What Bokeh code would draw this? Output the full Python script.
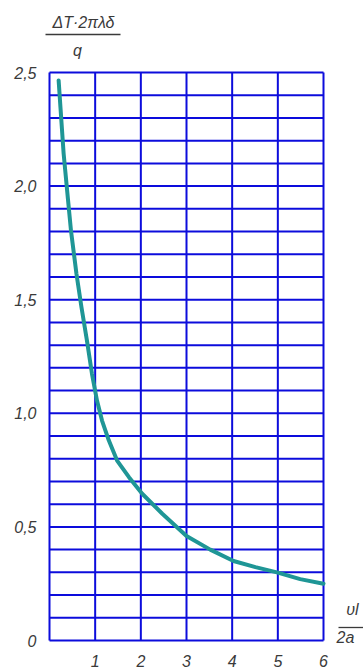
from bokeh.plotting import figure
from bokeh.models import Range1d
from bokeh.core.properties import value
from bokeh.embed import file_html
from bokeh.resources import INLINE

# data
x_vals = [0.20, 0.24, 0.31, 0.40, 0.47, 0.59, 0.70, 0.82, 0.93, 1.04, 1.15, 1.30,
          1.48, 1.74, 2.03, 2.47, 3.0, 3.52, 4.03, 4.51, 4.98, 5.49, 6.0]
y_vals = [2.465, 2.347, 2.142, 1.951, 1.805, 1.614, 1.467, 1.320, 1.174, 1.056, 0.968, 0.880,
          0.792, 0.719, 0.646, 0.558, 0.46, 0.40, 0.35, 0.323, 0.30, 0.27, 0.25]

x_ticks = [1, 2, 3, 4, 5, 6]
x_tick_labels = ["1", "2", "3", "4", "5", "6"]
y_ticks = [0, 0.5, 1.0, 1.5, 2.0, 2.5]
y_tick_labels = ["0", "0,5", "1,0", "1,5", "2,0", "2,5"]
x_grid = [0, 1, 2, 3, 4, 5, 6]
y_grid = [round(i * 0.1, 1) for i in range(26)]
y_title_num = "ΔT·2πλδ"
y_title_den = "q"
x_title_num = "υl"
x_title_den = "2a"

FONT = value("Liberation Sans Narrow, Liberation Sans, sans-serif")
BLUE = "#0c0cdc"
TEXT = "#3a3a3a"

W, H = 363, 670
LEFT, TOP, FW, FH = 49, 72, 274, 568          # pixel box of the grid
XMIN, XMAX = min(x_grid), max(x_grid)
YMIN, YMAX = min(y_grid), max(y_grid)
sx = FW / (XMAX - XMIN)
sy = FH / (YMAX - YMIN)

p = figure(width=W, height=H, min_border=0,
           x_range=Range1d(XMIN - LEFT / sx, XMAX + (W - LEFT - FW) / sx),
           y_range=Range1d(YMIN - (H - TOP - FH) / sy, YMAX + TOP / sy),
           output_backend="svg", toolbar_location=None,
           x_axis_type=None, y_axis_type=None)
p.background_fill_color = "white"
p.border_fill_color = "white"
p.outline_line_color = None
p.grid.visible = False

# grid (including its border)
p.segment(x0=x_grid, y0=[YMIN] * len(x_grid), x1=x_grid, y1=[YMAX] * len(x_grid),
          line_color=BLUE, line_width=2)
p.segment(x0=[XMIN] * len(y_grid), y0=y_grid, x1=[XMAX] * len(y_grid), y1=y_grid,
          line_color=BLUE, line_width=2)

# curve
p.line(x_vals, y_vals, line_color="#1f9696", line_width=4, line_cap="round", line_join="round")

# tick labels
p.text(x=x_ticks, y=[YMIN] * len(x_ticks), text=x_tick_labels, y_offset=20,
       text_align="center", text_baseline="middle", text_font=FONT,
       text_font_style="italic", text_font_size="16px", text_color=TEXT)
p.text(x=[XMIN] * len(y_ticks), y=y_ticks, text=y_tick_labels, x_offset=-13,
       text_align="right", text_baseline="middle", text_font=FONT,
       text_font_style="italic", text_font_size="16px", text_color=TEXT)

# y-axis title (fraction) above the grid
p.text(x=[XMIN], y=[YMAX], text=[y_title_num], x_offset=34, y_offset=-50,
       text_align="center", text_baseline="middle", text_font=FONT,
       text_font_style="italic", text_font_size="16px", text_color=TEXT)
p.segment(x0=[XMIN - 4 / sx], y0=[YMAX + 38 / sy], x1=[XMIN + 71 / sx], y1=[YMAX + 38 / sy],
          line_color=TEXT, line_width=1.3)
p.text(x=[XMIN], y=[YMAX], text=[y_title_den], x_offset=28, y_offset=-22,
       text_align="center", text_baseline="middle", text_font=FONT,
       text_font_style="italic", text_font_size="16px", text_color=TEXT)

# x-axis title (fraction) right of the grid
p.text(x=[XMAX], y=[YMIN], text=[x_title_num], x_offset=29, y_offset=-31,
       text_align="center", text_baseline="middle", text_font=FONT,
       text_font_style="italic", text_font_size="16px", text_color=TEXT)
p.segment(x0=[XMAX + 15 / sx], y0=[YMIN + 13 / sy], x1=[XMAX + 40 / sx], y1=[YMIN + 13 / sy],
          line_color=TEXT, line_width=1.3)
p.text(x=[XMAX], y=[YMIN], text=[x_title_den], x_offset=22, y_offset=-3,
       text_align="center", text_baseline="middle", text_font=FONT,
       text_font_style="italic", text_font_size="16px", text_color=TEXT)

open("out.html", "w").write(file_html(p, INLINE))
